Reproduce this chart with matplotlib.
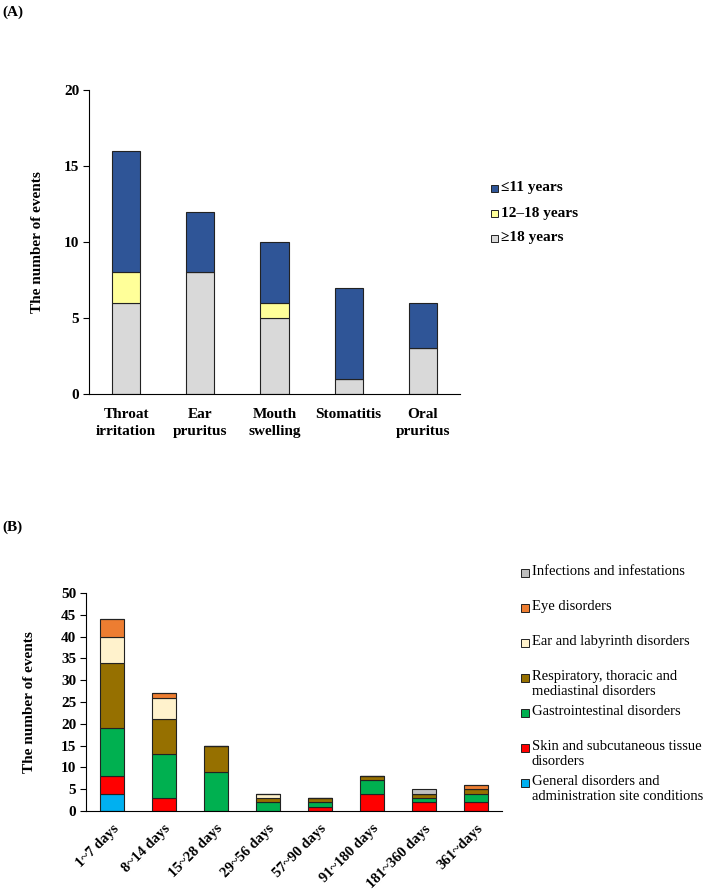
import matplotlib
matplotlib.use("Agg")
from matplotlib import pyplot as plt
from matplotlib.patches import Rectangle
from matplotlib.transforms import ScaledTranslation
import numpy as np

plt.rcParams['font.family'] = ['Liberation Serif', 'DejaVu Serif']

# ... panel A data: events by age group
symptoms = ["Throat\nirritation", "Ear\npruritus", "Mouth\nswelling", "Stomatitis", "Oral\npruritus"]
adult_18 = [6, 8, 5, 1, 3]
teen_12_18 = [2, 0, 1, 0, 0]
child_11 = [8, 4, 4, 6, 3]
age_labels = ["\u226411 years", "12\u201318 years", "\u226518 years"]
age_colors = ["#2F5597", "#FFFF99", "#D9D9D9"]

# ... panel B data: events by time to onset and SOC
periods = ["1~7 days", "8~14 days", "15~28 days", "29~56 days",
           "57~90 days", "91~180 days", "181~360 days", "361~days"]
general = [4, 0, 0, 0, 0, 0, 0, 0]
skin = [4, 3, 0, 0, 1, 4, 2, 2]
gastro = [11, 10, 9, 2, 1, 3, 1, 2]
resp = [15, 8, 6, 1, 1, 1, 1, 1]
ear = [6, 5, 0, 1, 0, 0, 0, 0]
eye = [4, 1, 0, 0, 0, 0, 0, 1]
infect = [0, 0, 0, 0, 0, 0, 1, 0]
soc_labels = ["General disorders and\nadministration site conditions",
              "Skin and subcutaneous tissue\ndisorders",
              "Gastrointestinal disorders",
              "Respiratory, thoracic and\nmediastinal disorders",
              "Ear and labyrinth disorders",
              "Eye disorders",
              "Infections and infestations"]
soc_colors = ["#00B0F0", "#FF0000", "#00B050", "#967000", "#FFF2CC", "#ED7D31", "#BFBFBF"]

W, H = 709, 890
fig = plt.figure(figsize=(W / 100, H / 100), dpi=100)
edge = "#222222"

# ... panel A
axA = fig.add_axes([89 / W, 1 - 394 / H, 371 / W, 304 / H])
x = np.arange(len(symptoms))
bottom = np.zeros(len(symptoms))
for vals, col in zip([adult_18, teen_12_18, child_11], age_colors[::-1]):
    axA.bar(x, vals, width=0.38, bottom=bottom, color=col, edgecolor=edge, linewidth=0.8)
    bottom += np.array(vals)
axA.set_xlim(-0.5, 4.5)
axA.set_ylim(0, 20)
axA.set_yticks([0, 5, 10, 15, 20])
axA.set_xticks(x)
axA.set_xticklabels(symptoms, fontsize=11, fontweight='bold', linespacing=1.4)
axA.set_ylabel("The number of events", fontsize=11, fontweight='bold')
axA.yaxis.set_label_coords(-0.121, 0.5)
for s in ['top', 'right']:
    axA.spines[s].set_visible(False)
axA.tick_params(axis='x', length=0, pad=10)
axA.tick_params(axis='y', length=4, labelsize=11, pad=3)
for lab in axA.get_yticklabels():
    lab.set_fontweight('bold')

# legend A
for i, (lab, col) in enumerate(zip(age_labels, age_colors)):
    yc = 188 + 25 * i
    fig.add_artist(Rectangle((491 / W, 1 - (yc + 3.5) / H), 7 / W, 7 / H,
                             transform=fig.transFigure, facecolor=col,
                             edgecolor=edge, linewidth=0.7))
    fig.text(501 / W, 1 - yc / H, lab, fontsize=11, fontweight='bold', va='center')

fig.text(2 / W, 1 - 12 / H, "(A)", fontsize=11, fontweight='bold', va='center')

# ... panel B
axB = fig.add_axes([86 / W, 1 - 811 / H, 416 / W, 218 / H])
xb = np.arange(len(periods))
bottom = np.zeros(len(periods))
for vals, col in zip([general, skin, gastro, resp, ear, eye, infect], soc_colors):
    axB.bar(xb, vals, width=0.45, bottom=bottom, color=col, edgecolor=edge, linewidth=0.8)
    bottom += np.array(vals)
axB.set_xlim(-0.5, 7.5)
axB.set_ylim(0, 50)
axB.set_yticks(np.arange(0, 51, 5))
axB.set_xticks(xb)
axB.set_xticklabels(periods, fontsize=10.5, fontweight='bold', rotation=45,
                    ha='right', rotation_mode='anchor')
shift = ScaledTranslation(-6 / 100, 0, fig.dpi_scale_trans)
for lab in axB.get_xticklabels():
    lab.set_transform(lab.get_transform() + shift)
axB.set_ylabel("The number of events", fontsize=11, fontweight='bold')
axB.yaxis.set_label_coords(-0.12, 0.5)
for s in ['top', 'right']:
    axB.spines[s].set_visible(False)
axB.tick_params(axis='x', length=0, pad=8)
axB.tick_params(axis='y', length=4, labelsize=11, pad=3)
for lab in axB.get_yticklabels():
    lab.set_fontweight('bold')

# legend B (top entry is last stacked series)
for i, (lab, col) in enumerate(zip(soc_labels[::-1], soc_colors[::-1])):
    yc = 573 + 35 * i
    fig.add_artist(Rectangle((521 / W, 1 - (yc + 4) / H), 8 / W, 8 / H,
                             transform=fig.transFigure, facecolor=col,
                             edgecolor=edge, linewidth=0.7))
    fig.text(532 / W, 1 - (yc - 8) / H, lab, fontsize=10.5, va='top', linespacing=1.2)

fig.text(2 / W, 1 - 527 / H, "(B)", fontsize=11, fontweight='bold', va='center')

fig.savefig("out.png", dpi=100)
